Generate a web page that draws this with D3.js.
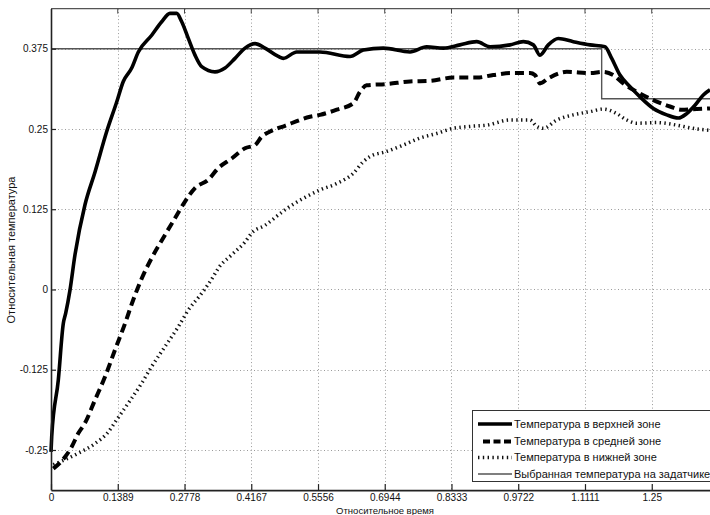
<!DOCTYPE html>
<html>
<head>
<meta charset="utf-8">
<script src="https://cdn.jsdelivr.net/npm/d3@7"></script>
<style>
  html, body { margin: 0; padding: 0; background: #fff; overflow: hidden; }
  svg { display: block; font-family: "Liberation Sans", Arial, sans-serif; }
</style>
</head>
<body>
<svg id="chart" width="710" height="515"></svg>
<script>
// Relative time / relative temperature of the three zones and the setpoint
const xTickValues = [0, 0.1389, 0.2778, 0.4167, 0.5556, 0.6944, 0.8333, 0.9722, 1.1111, 1.25];
const xTickLabels = ["0", "0.1389", "0.2778", "0.4167", "0.5556", "0.6944", "0.8333", "0.9722", "1.1111", "1.25"];
const yTickValues = [-0.25, -0.125, 0, 0.125, 0.25, 0.375];
const yTickLabels = ["-0.25", "-0.125", "0", "0.125", "0.25", "0.375"];

const upperT = [0, 0.0015, 0.0152, 0.0256, 0.0306, 0.0395, 0.0499, 0.0707, 0.0916, 0.1159, 0.1367, 0.1504, 0.1679, 0.1817, 0.2095, 0.2303, 0.2476, 0.2616, 0.2720, 0.2857, 0.2996, 0.3136, 0.3412, 0.3621, 0.3829, 0.4037, 0.4245, 0.4453, 0.4730, 0.4834, 0.5113, 0.5597, 0.6222, 0.6498, 0.6914, 0.7470, 0.7817, 0.8163, 0.8510, 0.8858, 0.9135, 0.9551, 0.9828, 1.0036, 1.0175, 1.0348, 1.0556, 1.0868, 1.1215, 1.1527, 1.1667, 1.1839, 1.2048, 1.2256, 1.2533, 1.2811, 1.3053, 1.3228, 1.3400, 1.3573, 1.3712];
const upperV = [-0.253, -0.229, -0.141, -0.053, -0.037, -0.001, 0.054, 0.132, 0.183, 0.246, 0.292, 0.324, 0.345, 0.370, 0.396, 0.417, 0.430, 0.430, 0.417, 0.391, 0.365, 0.347, 0.339, 0.345, 0.360, 0.376, 0.383, 0.376, 0.363, 0.360, 0.370, 0.370, 0.363, 0.373, 0.376, 0.370, 0.378, 0.376, 0.381, 0.386, 0.378, 0.381, 0.386, 0.381, 0.365, 0.381, 0.391, 0.386, 0.381, 0.378, 0.360, 0.334, 0.316, 0.300, 0.282, 0.272, 0.267, 0.274, 0.287, 0.303, 0.311];

const middleT = [0.0048, 0.0291, 0.0431, 0.0568, 0.0707, 0.0916, 0.1124, 0.1332, 0.1540, 0.1712, 0.1887, 0.2095, 0.2372, 0.2580, 0.2788, 0.2996, 0.3273, 0.3481, 0.3760, 0.4037, 0.4245, 0.4384, 0.4557, 0.4869, 0.5389, 0.5597, 0.5945, 0.6290, 0.6430, 0.6569, 0.6985, 0.7470, 0.7886, 0.8371, 0.8858, 0.9203, 0.9551, 0.9967, 1.0071, 1.0175, 1.0348, 1.0731, 1.1215, 1.1492, 1.1700, 1.1908, 1.2187, 1.2533, 1.2880, 1.3123, 1.3435, 1.3712];
const middleV = [-0.279, -0.261, -0.245, -0.224, -0.208, -0.172, -0.136, -0.094, -0.053, -0.016, 0.017, 0.049, 0.085, 0.111, 0.137, 0.158, 0.171, 0.189, 0.204, 0.220, 0.225, 0.238, 0.246, 0.255, 0.269, 0.272, 0.280, 0.290, 0.308, 0.318, 0.320, 0.324, 0.325, 0.330, 0.330, 0.334, 0.337, 0.337, 0.334, 0.321, 0.329, 0.339, 0.337, 0.339, 0.334, 0.321, 0.308, 0.295, 0.285, 0.280, 0.281, 0.282];

const lowerT = [0.0048, 0.0568, 0.0916, 0.1192, 0.1367, 0.1608, 0.1887, 0.2095, 0.2372, 0.2649, 0.2857, 0.3136, 0.3377, 0.3481, 0.3760, 0.4037, 0.4176, 0.4453, 0.4730, 0.4904, 0.5250, 0.5597, 0.5945, 0.6290, 0.6498, 0.6638, 0.6985, 0.7330, 0.7678, 0.8025, 0.8371, 0.8718, 0.9066, 0.9551, 0.9967, 1.0106, 1.0244, 1.0523, 1.0868, 1.1215, 1.1492, 1.1771, 1.1979, 1.2187, 1.2603, 1.3019, 1.3435, 1.3712];
const lowerV = [-0.273, -0.255, -0.240, -0.222, -0.203, -0.177, -0.146, -0.120, -0.089, -0.058, -0.032, -0.006, 0.020, 0.033, 0.054, 0.074, 0.088, 0.100, 0.116, 0.126, 0.142, 0.155, 0.165, 0.181, 0.199, 0.207, 0.215, 0.225, 0.236, 0.243, 0.251, 0.254, 0.256, 0.264, 0.264, 0.254, 0.251, 0.264, 0.272, 0.277, 0.281, 0.274, 0.264, 0.259, 0.260, 0.256, 0.250, 0.248];

const setpointT = [0, 1.1458, 1.3889];
const setpointV = [0.375, 0.297, 0.297];

const legendLabels = [
  "Температура в верхней зоне",
  "Температура в средней зоне",
  "Температура в нижней зоне",
  "Выбранная температура на задатчике"
];

const svg = d3.select("#chart");
const x = d3.scaleLinear().domain([0, 1.3889]).range([51, 718.5]);
const y = d3.scaleLinear().domain([-0.3125, 0.4375]).range([490.1, 8.6]);

const grid = svg.append("g").attr("stroke", "#9a9a9a").attr("stroke-width", 1)
  .attr("stroke-dasharray", "1,2.5").attr("fill", "none");
grid.selectAll("line.v").data(xTickValues.slice(1)).join("line")
  .attr("x1", d => Math.round(x(d)) + 0.5).attr("x2", d => Math.round(x(d)) + 0.5)
  .attr("y1", y.range()[1]).attr("y2", y.range()[0]);
grid.selectAll("line.h").data(yTickValues).join("line")
  .attr("y1", d => Math.round(y(d)) + 0.5).attr("y2", d => Math.round(y(d)) + 0.5)
  .attr("x1", x.range()[0]).attr("x2", x.range()[1]);

const plot = svg.append("g");
const line = d3.line().x(d => x(d[0])).y(d => y(d[1]));

// setpoint staircase
plot.append("path")
  .datum(d3.zip(setpointT, setpointV))
  .attr("fill", "none").attr("stroke", "#555").attr("stroke-width", 1.4)
  .attr("d", d3.line().x(d => x(d[0])).y(d => y(d[1])).curve(d3.curveStepAfter));

plot.append("path")
  .datum(d3.zip(lowerT, lowerV))
  .attr("fill", "none").attr("stroke", "#111").attr("stroke-width", 3.5)
  .attr("stroke-dasharray", "1.4,3.4")
  .attr("d", line.curve(d3.curveMonotoneX));

plot.append("path")
  .datum(d3.zip(middleT, middleV))
  .attr("fill", "none").attr("stroke", "#000").attr("stroke-width", 4)
  .attr("stroke-dasharray", "9,5")
  .attr("d", line.curve(d3.curveMonotoneX));

plot.append("path")
  .datum(d3.zip(upperT, upperV))
  .attr("fill", "none").attr("stroke", "#000").attr("stroke-width", 3.6)
  .attr("stroke-linejoin", "round")
  .attr("d", line.curve(d3.curveMonotoneX));

// frame
svg.append("line").attr("x1", x.range()[0]).attr("x2", x.range()[1])
  .attr("y1", y.range()[1]).attr("y2", y.range()[1])
  .attr("stroke", "#555").attr("stroke-width", 1.2);

const xAxis = d3.axisBottom(x).tickValues(xTickValues)
  .tickFormat((d, i) => xTickLabels[i]).tickSizeInner(-6).tickSizeOuter(0).tickPadding(4);
const gx = svg.append("g").attr("transform", `translate(0,${y.range()[0]})`).call(xAxis);
gx.select(".domain").attr("stroke", "#222").attr("stroke-width", 1.6);
gx.selectAll(".tick line").attr("stroke", "#222").attr("stroke-width", 1.2);
gx.selectAll(".tick text").attr("font-size", 10).attr("fill", "#111")
  .attr("font-family", "'Liberation Sans', Arial, sans-serif");

const yAxis = d3.axisLeft(y).tickValues(yTickValues)
  .tickFormat((d, i) => yTickLabels[i]).tickSizeInner(-5).tickSizeOuter(0).tickPadding(3);
const gy = svg.append("g").attr("transform", `translate(${x.range()[0]},0)`).call(yAxis);
gy.select(".domain").attr("stroke", "#222").attr("stroke-width", 1.6);
gy.selectAll(".tick line").attr("stroke", "#222").attr("stroke-width", 1.2);
gy.selectAll(".tick text").attr("font-size", 10).attr("fill", "#111")
  .attr("font-family", "'Liberation Sans', Arial, sans-serif");

// top ticks
svg.append("g").selectAll("line").data(xTickValues.slice(1)).join("line")
  .attr("x1", d => x(d)).attr("x2", d => x(d))
  .attr("y1", y.range()[1]).attr("y2", y.range()[1] + 5)
  .attr("stroke", "#444").attr("stroke-width", 1);

// axis titles
svg.append("text").attr("x", 385).attr("y", 513.5).attr("text-anchor", "middle")
  .attr("font-size", 9.5).attr("fill", "#111").text("Относительное время");
svg.append("text").attr("transform", "translate(15,250) rotate(-90)")
  .attr("text-anchor", "middle").attr("font-size", 11).attr("fill", "#111")
  .text("Относительная температура");

// legend
const lg = svg.append("g");
lg.append("rect").attr("x", 472.5).attr("y", 410.5).attr("width", 270).attr("height", 71)
  .attr("fill", "#fff").attr("stroke", "#333").attr("stroke-width", 1);
const rowY = [424, 441.5, 457.5, 474];
const styles = [
  { w: 3.6, dash: null, c: "#000", x1: 478 },
  { w: 4, dash: "7,3.5", c: "#000", x1: 483 },
  { w: 3.5, dash: "1.4,3.4", c: "#111", x1: 478 },
  { w: 1.4, dash: null, c: "#555", x1: 478 }
];
legendLabels.forEach((lab, i) => {
  const s = styles[i];
  lg.append("line").attr("x1", s.x1).attr("x2", 512).attr("y1", rowY[i]).attr("y2", rowY[i])
    .attr("stroke", s.c).attr("stroke-width", s.w)
    .attr("stroke-dasharray", s.dash);
  lg.append("text").attr("x", 514).attr("y", rowY[i]).attr("dy", "0.35em")
    .attr("font-size", 11).attr("fill", "#111").text(lab);
});
</script>
</body>
</html>
